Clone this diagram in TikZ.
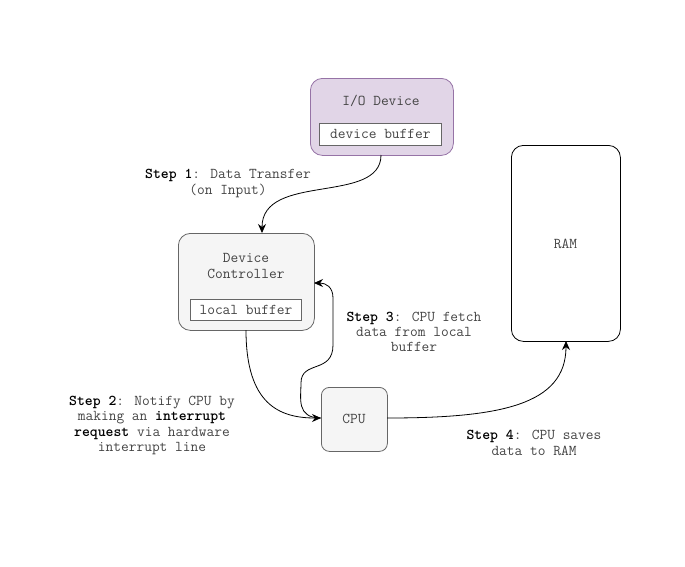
\documentclass[tikz,border=0pt]{standalone}
\usepackage{fontspec}
\usetikzlibrary{arrows.meta}
\definecolor{txt}{HTML}{444444}
\definecolor{iofill}{HTML}{E1D5E7}
\definecolor{iodraw}{HTML}{9673A6}
\definecolor{gfill}{HTML}{F5F5F5}
\definecolor{gdraw}{HTML}{666666}
\begin{document}
\begin{tikzpicture}[x=1pt,y=-1pt,
  every node/.style={font=\ttfamily\fontsize{15}{15.3}\selectfont, text=txt},
  iobox/.style={draw=iodraw, fill=iofill, rounded corners=12pt, line width=0.8pt},
  graybox/.style={draw=gdraw, fill=gfill, rounded corners=12pt, line width=0.8pt},
  bufbox/.style={draw=gdraw, fill=white, line width=0.8pt, inner sep=0pt},
  ramstyle/.style={draw=black, fill=white, rounded corners=12pt, line width=0.8pt},
  conn/.style={draw=black, line width=0.8pt, -{Stealth[length=9pt,width=8pt]}},
  lbl/.style={align=center, inner sep=0pt}
]
\useasboundingbox (0,0) rectangle (685,566);
% I/O Device
\node[iobox, minimum width=143pt, minimum height=77pt, anchor=north west] (io) at (310,78) {};
\node[lbl] (iot) at (381,101) {I/O Device};
\node[bufbox, minimum width=122pt, minimum height=22pt, anchor=north west] (dbuf) at (319,123) {device buffer};
% Device Controller
\node[graybox, minimum width=136pt, minimum height=97pt, anchor=north west] (dc) at (178,233) {};
\node[lbl] (dct) at (246,266) {Device\\Controller};
\node[bufbox, minimum width=111pt, minimum height=21pt, anchor=north west] (lbuf) at (190,299) {local buffer};
% CPU
\node[graybox, rounded corners=8pt, minimum width=66pt, minimum height=64pt, anchor=north west] (cpu) at (321,387) {};
\node[lbl] (cput) at (354,419) {CPU};
% RAM
\node[ramstyle, minimum width=109pt, minimum height=196pt, anchor=north west] (ram) at (511,145) {};
\node[lbl] (ramt) at (565.5,244) {RAM};
% coordinates
\coordinate (ioS) at (381,155);
\coordinate (dcN) at (262,233);
\coordinate (dcS) at (246,330);
\coordinate (dcE) at (314,283);
\coordinate (cpuW) at (321,418);
\coordinate (cpuE) at (387,418);
\coordinate (ramS) at (566,341);
% connectors
\draw[conn] (ioS) .. controls (381,205) and (262,172) .. (dcN);
\draw[conn] (dcS) .. controls (246,405) and (280,418) .. (cpuW);
\draw[conn] (cpuW) .. controls (296,418) and (301,398) .. (301,383)
  .. controls (301,360) and (333,374) .. (333,345) -- (333,298)
  .. controls (333,287) and (326,283) .. (dcE);
\draw[conn] (cpuE) .. controls (500,418) and (566,405) .. (ramS);
% labels
\node[lbl] (s1) at (228,183.5) {\textbf{\color{black}Step 1}: Data Transfer\\(on Input)};
\node[lbl] (s2) at (152,425.5) {\textbf{\color{black}Step 2}: Notify CPU by\\making an \textbf{\color{black}interrupt}\\\textbf{\color{black}request} via hardware\\interrupt line};
\node[lbl] (s3) at (414,332) {\textbf{\color{black}Step 3}: CPU fetch\\data from local\\buffer};
\node[lbl] (s4) at (534,443) {\textbf{\color{black}Step 4}: CPU saves\\data to RAM};
\end{tikzpicture}
\end{document}
